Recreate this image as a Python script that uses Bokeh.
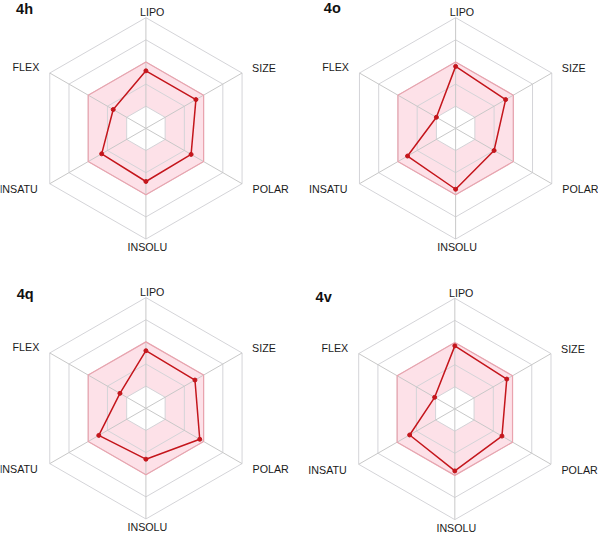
import math
from bokeh.plotting import figure
from bokeh.models import Range1d
from bokeh.embed import file_html
from bokeh.resources import INLINE
from bokeh.core.properties import value

# ---- data ----
categories = ["LIPO", "SIZE", "POLAR", "INSOLU", "INSATU", "FLEX"]
compounds = ["4h", "4o", "4q", "4v"]
v_4h = [0.52, 0.52, 0.47, 0.48, 0.46, 0.34]
v_4o = [0.56, 0.52, 0.40, 0.55, 0.50, 0.20]
v_4q = [0.52, 0.51, 0.56, 0.46, 0.49, 0.27]
v_4v = [0.57, 0.54, 0.49, 0.56, 0.47, 0.21]
series = [v_4h, v_4o, v_4q, v_4v]
ring_levels = [0.2, 0.4, 0.6, 0.8, 1.0]
optimal_low, optimal_high = 0.2, 0.6

# ---- layout (reference pixel coordinates) ----
centers = [(149.3, 131.7), (467.3, 131.7), (149.3, 420.0), (466.5, 420.7)]
R = 114.0
label_off = [(6.5, -119.5, "center"), (109, -62, "left"), (109.5, 62.5, "left"),
             (1.5, 122.5, "center"), (-111, 62.5, "right"), (-109.5, -63, "right")]
title_off = [(-133.3, -123.0), (-135.3, -123.5), (-132.6, -117.5), (-143.0, -115.4)]

FONT = "Liberation Sans"

p = figure(width=598, height=534, x_range=Range1d(0, 614), y_range=Range1d(550, 0),
           output_backend="svg", toolbar_location=None, min_border=0,
           x_axis_type=None, y_axis_type=None)
p.grid.visible = False
p.outline_line_color = None
p.background_fill_color = "white"

n = len(categories)
angles = [math.radians(90 - 60 * i) for i in range(n)]


def pt(c, r, a):
    return c[0] + r * R * math.cos(a), c[1] - r * R * math.sin(a)


for k, c in enumerate(centers):
    def ring(r):
        xs = [pt(c, r, a)[0] for a in angles]
        ys = [pt(c, r, a)[1] for a in angles]
        return xs, ys

    # optimal zone (pink) with hole
    ox, oy = ring(optimal_high)
    ix, iy = ring(optimal_low)
    p.multi_polygons(xs=[[[ox, ix]]], ys=[[[oy, iy]]], fill_color="#fde1e8",
                     line_color=None)
    # grid rings
    for lv in ring_levels:
        rx, ry = ring(lv)
        p.patch(rx + [rx[0]], ry + [ry[0]], fill_color=None, line_color="#d4d4d8",
                line_width=1)
    # spokes
    for a in angles:
        x1, y1 = pt(c, 1.0, a)
        p.line([c[0], x1], [c[1], y1], line_color="#c8c8c8", line_width=1)
    # pink border
    p.patch(ox + [ox[0]], oy + [oy[0]], fill_color=None, line_color="#eaa3ae",
            line_width=1.2)
    # data polygon
    vals = series[k]
    dx = [pt(c, v, a)[0] for v, a in zip(vals, angles)]
    dy = [pt(c, v, a)[1] for v, a in zip(vals, angles)]
    p.line(dx + [dx[0]], dy + [dy[0]], line_color="#c4161c", line_width=1.5)
    p.scatter(dx, dy, size=4, fill_color="#c4161c", line_color="#c4161c")
    # axis labels
    for cat, (ldx, ldy, al) in zip(categories, label_off):
        p.text([c[0] + ldx], [c[1] + ldy], text=[cat], text_font=value(FONT),
               text_font_size="10.7px", text_align=al, text_baseline="middle",
               text_color="#1a1a1a")
    # title
    tdx, tdy = title_off[k]
    p.text([c[0] + tdx], [c[1] + tdy], text=[compounds[k]], text_font=value(FONT),
           text_font_size="14.5px", text_font_style="bold", text_align="left",
           text_baseline="middle", text_color="#111111")

open("out.html", "w").write(file_html(p, INLINE))
